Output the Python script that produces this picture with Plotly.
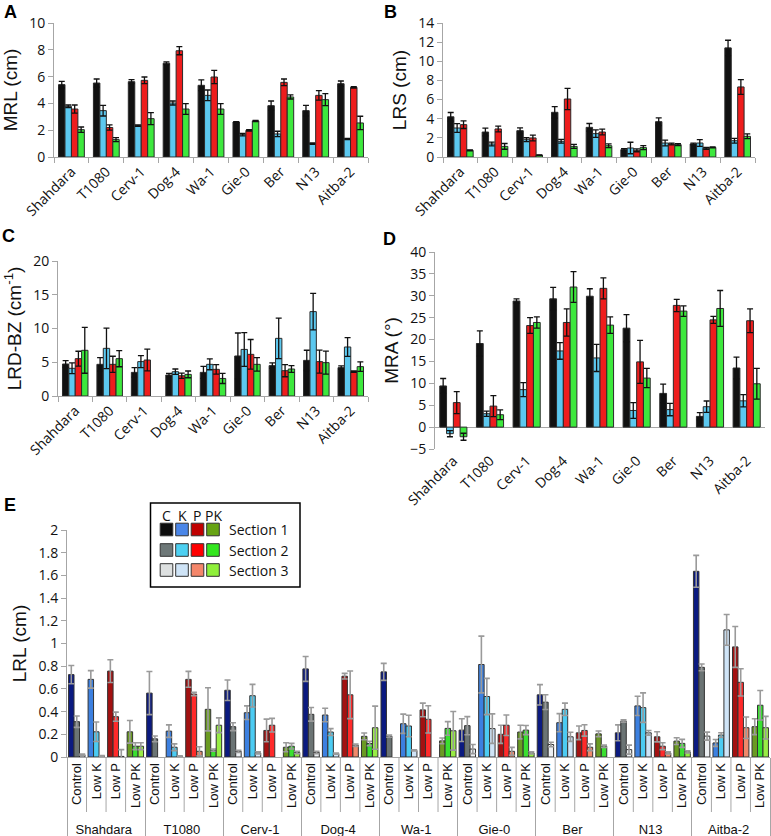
import plotly.graph_objects as go

W, H = 771, 836

accessions = ["Shahdara", "T1080", "Cerv-1", "Dog-4", "Wa-1", "Gie-0", "Ber", "N13", "Aitba-2"]
treatments = ["Control", "Low K", "Low P", "Low PK"]
treat_codes = ["C", "K", "P", "PK"]
section_names = ["Section 1", "Section 2", "Section 3"]

# ---- Panel A: MRL (cm)
mrl_c = [5.4, 5.52, 5.62, 7.0, 5.35, 2.61, 3.83, 3.46, 5.47]
mrl_k = [3.78, 3.46, 2.34, 4.03, 4.6, 1.67, 1.72, 1.0, 1.34]
mrl_p = [3.58, 2.2, 5.72, 7.93, 5.97, 1.99, 5.57, 4.6, 5.2]
mrl_pk = [2.04, 1.3, 2.86, 3.58, 3.58, 2.69, 4.48, 4.28, 2.54]
mrl_c_err = [0.25, 0.3, 0.15, 0.1, 0.4, 0.02, 0.35, 0.4, 0.2]
mrl_k_err = [0.1, 0.4, 0.05, 0.15, 0.4, 0.1, 0.2, 0.05, 0.05]
mrl_p_err = [0.3, 0.2, 0.25, 0.3, 0.5, 0.05, 0.25, 0.35, 0.05]
mrl_pk_err = [0.2, 0.15, 0.45, 0.4, 0.4, 0.05, 0.15, 0.45, 0.5]

# ---- Panel B: LRS (cm)
lrs_c = [4.2, 2.61, 2.75, 4.67, 3.1, 0.77, 3.69, 1.36, 11.4]
lrs_k = [3.03, 1.36, 1.81, 1.64, 2.44, 0.94, 1.46, 1.46, 1.7]
lrs_p = [3.38, 2.93, 1.99, 6.06, 2.61, 0.7, 1.36, 0.9, 7.32]
lrs_pk = [0.7, 1.11, 0.2, 1.11, 1.18, 0.98, 1.29, 1.0, 2.16]
lrs_c_err = [0.45, 0.4, 0.3, 0.6, 0.4, 0.1, 0.4, 0.1, 0.8]
lrs_k_err = [0.45, 0.2, 0.2, 0.2, 0.4, 0.6, 0.3, 0.35, 0.25]
lrs_p_err = [0.4, 0.3, 0.3, 1.1, 0.3, 0.15, 0.1, 0.1, 0.77]
lrs_pk_err = [0.05, 0.3, 0.02, 0.2, 0.2, 0.2, 0.1, 0.05, 0.25]

# ---- Panel C: LRD-BZ (cm-1)
lrd_c = [4.74, 4.69, 3.5, 3.11, 3.5, 5.93, 4.5, 5.28, 4.2]
lrd_k = [4.1, 7.06, 5.09, 3.6, 4.69, 6.9, 8.54, 12.5, 7.26]
lrd_p = [5.53, 4.69, 5.33, 3.0, 3.95, 6.17, 3.75, 5.09, 3.6]
lrd_pk = [6.77, 5.53, None, 3.2, 2.6, 4.69, 4.0, 4.94, 4.35]
lrd_c_err = [0.5, 1.0, 0.7, 0.25, 0.9, 3.4, 0.4, 1.5, 0.25]
lrd_k_err = [0.8, 3.0, 0.9, 0.4, 0.8, 2.5, 3.0, 2.7, 1.4]
lrd_p_err = [1.1, 1.2, 1.6, 0.4, 0.7, 2.2, 0.9, 1.7, 0.1]
lrd_pk_err = [3.4, 1.2, 0, 0.5, 0.75, 1.0, 0.5, 1.7, 0.7]

# ---- Panel D: MRA (degrees)
mra_c = [9.4, 19.1, 28.8, 29.3, 29.9, 22.6, 7.7, 2.45, 13.5]
mra_k = [-1.5, 3.06, 8.56, 17.4, 15.8, 3.8, 4.0, 4.66, 6.0]
mra_p = [5.6, 4.8, 23.2, 23.9, 31.7, 14.9, 27.8, 24.5, 24.3]
mra_pk = [-2.2, 2.83, 23.9, 32.0, 23.3, 11.2, 26.5, 27.1, 9.9]
mra_c_err = [1.7, 2.9, 0.5, 2.6, 1.7, 3.1, 2.1, 0.85, 2.5]
mra_k_err = [0.7, 0.6, 1.6, 1.9, 3.1, 1.8, 1.4, 1.3, 1.4]
mra_p_err = [2.5, 2.4, 1.8, 3.1, 2.4, 4.9, 1.4, 0.8, 2.7]
mra_pk_err = [0.8, 1.1, 1.3, 3.5, 1.9, 2.2, 1.2, 4.1, 3.5]

# ---- Panel E: LRL (cm), order = accession x (Control, Low K, Low P, Low PK)
lrl_sec1 = [0.726, 0.684, 0.757, 0.222,  0.563, 0.228, 0.684, 0.42,  0.588, 0.39, 0.234, 0.086,
            0.776, 0.37, 0.712, 0.182,  0.75, 0.293, 0.415, 0.142,  0.237, 0.815, 0.2, 0.22,
            0.548, 0.302, 0.213, 0.204,  0.213, 0.45, 0.178, 0.14,  1.636, 0.124, 0.97, 0.267]
lrl_sec1_err = [0.08, 0.077, 0.1, 0.1,  0.19, 0.055, 0.07, 0.19,  0.09, 0.06, 0.1, 0.04,
                0.11, 0.06, 0.025, 0.03,  0.075, 0.085, 0.06, 0.025,  0.1, 0.25, 0.08, 0.06,
                0.09, 0.08, 0.06, 0.025,  0.07, 0.085, 0.045, 0.03,  0.14, 0.03, 0.18, 0.07]
lrl_sec2 = [0.311, 0.222, 0.355, 0.095,  0.16, 0.086, 0.554, 0.06,  0.267, 0.54, 0.28, 0.095,
            0.376, 0.22, 0.548, 0.119,  0.184, 0.273, 0.332, 0.252,  0.276, 0.533, 0.28, 0.237,
            0.483, 0.42, 0.234, 0.095,  0.317, 0.435, 0.095, 0.12,  0.79, 0.193, 0.658, 0.456]
lrl_sec2_err = [0.05, 0.086, 0.04, 0.03,  0.025, 0.03, 0.015, 0.01,  0.035, 0.1, 0.06, 0.025,
                0.06, 0.03, 0.21, 0.02,  0.01, 0.095, 0.12, 0.06,  0.08, 0.16, 0.09, 0.04,
                0.065, 0.055, 0.05, 0.01,  0.01, 0.13, 0.03, 0.035,  0.03, 0.02, 0.12, 0.13]
lrl_sec3 = [0.02, 0.01, 0.005, 0.095,  None, 0.005, 0.05, 0.28,  0.05, 0.036, None, 0.04,
            0.04, 0.03, 0.104, 0.258,  None, 0.058, None, 0.231,  0.07, 0.25, 0.05, 0.036,
            0.11, 0.178, 0.086, None,  0.065, 0.213, 0.036, 0.045,  0.184, 1.12, 0.258, 0.258]
lrl_sec3_err = [0.005, 0.003, 0.06, 0.03,  0, 0.005, 0.04, 0.065,  0.01, 0.01, 0, 0.01,
                0.01, 0.005, 0.01, 0.19,  0, 0.005, 0, 0.17,  0.04, 0.13, 0.035, 0.01,
                0.02, 0.04, 0.03, 0,  0.04, 0.02, 0.01, 0.01,  0.035, 0.136, 0.095, 0.1]

# ---------------- styling ----------------
AD_COLORS = ["#111111", "#5cc8ef", "#ee1d1d", "#3de83d"]
E_COLORS = {  # per section, per treatment
    0: ["#0b1a80", "#3c80e0", "#a31111", "#6a9a22"],
    1: ["#6b7474", "#4ccbf2", "#ff2a2a", "#3ae030"],
    2: ["#eceff2", "#cfe4f7", "#f0896b", "#98ec45"],
}
LEG_COLORS = {
    0: ["#0d0d0d", "#4a86e8", "#c00000", "#66a313"],
    1: ["#6e7878", "#4dd0f2", "#ff0000", "#33e61e"],
    2: ["#dde0e0", "#cfe4f7", "#f4866a", "#8ff03a"],
}
AX = "#a6a6a6"
TICKFONT = dict(family="Open Sans, Lato, sans-serif", size=14, color="#111")
TITLEFONT = dict(family="Liberation Sans, Arial, sans-serif", size=19, color="#111")


def fx(px):
    return px / W


def fy(py):
    return 1 - py / H


fig = go.Figure()

panels = [
    ("x", "y", [mrl_c, mrl_k, mrl_p, mrl_pk], [mrl_c_err, mrl_k_err, mrl_p_err, mrl_pk_err]),
    ("x2", "y2", [lrs_c, lrs_k, lrs_p, lrs_pk], [lrs_c_err, lrs_k_err, lrs_p_err, lrs_pk_err]),
    ("x3", "y3", [lrd_c, lrd_k, lrd_p, lrd_pk], [lrd_c_err, lrd_k_err, lrd_p_err, lrd_pk_err]),
    ("x4", "y4", [mra_c, mra_k, mra_p, mra_pk], [mra_c_err, mra_k_err, mra_p_err, mra_pk_err]),
]
for xa, ya, series, errs in panels:
    for i, (vals, ev) in enumerate(zip(series, errs)):
        fig.add_trace(go.Bar(
            x=accessions, y=vals, xaxis=xa, yaxis=ya, name=treat_codes[i],
            marker=dict(color=AD_COLORS[i], line=dict(color="#2a2a2a", width=1)),
            error_y=dict(type="data", array=ev, visible=True, color="#111", thickness=1.3, width=3),
            showlegend=False,
        ))

# Panel E
e_outer = [a for a in accessions for _ in treatments]
e_inner = [t for _ in accessions for t in treatments]
e_vals = [lrl_sec1, lrl_sec2, lrl_sec3]
e_errs = [lrl_sec1_err, lrl_sec2_err, lrl_sec3_err]
bw = 0.28
for s in range(3):
    fig.add_trace(go.Bar(
        x=[e_outer, e_inner], y=e_vals[s], xaxis="x5", yaxis="y5", name=section_names[s],
        width=bw, offset=-1.5 * bw + s * bw,
        marker=dict(color=[E_COLORS[s][j % 4] for j in range(36)], line=dict(color="#333", width=1)),
        error_y=dict(type="data", array=e_errs[s], visible=True, color="#9a9a9a", thickness=1.6, width=3),
        showlegend=False,
    ))

common_x = dict(showline=True, linecolor=AX, linewidth=1, ticks="outside", tickson="boundaries",
                ticklen=5, tickcolor=AX, tickangle=-45, tickfont=TICKFONT, showgrid=False,
                zeroline=False, automargin=False)
common_y = dict(showline=True, linecolor=AX, linewidth=1, ticks="outside", ticklen=5, tickcolor=AX,
                tickfont=TICKFONT, showgrid=False, zeroline=False, title_standoff=6, automargin=False)

fig.update_layout(
    template="none",
    width=W, height=H, margin=dict(l=0, r=0, t=0, b=0, pad=0), autosize=False,
    paper_bgcolor="white", plot_bgcolor="white", showlegend=False,
    barmode="group", bargap=0.26, bargroupgap=0,
    xaxis=dict(domain=[fx(54), fx(368)], anchor="y", **common_x),
    yaxis=dict(domain=[fy(157), fy(23)], anchor="x", range=[0, 10], dtick=2,
               title=dict(text="MRL (cm)", font=TITLEFONT), **common_y),
    xaxis2=dict(domain=[fx(443), fx(755)], anchor="y2", **common_x),
    yaxis2=dict(domain=[fy(157), fy(23)], anchor="x2", range=[0, 14], dtick=2,
                title=dict(text="LRS (cm)", font=TITLEFONT), **common_y),
    xaxis3=dict(domain=[fx(58), fx(368)], anchor="y3", **common_x),
    yaxis3=dict(domain=[fy(396), fy(261)], anchor="x3", range=[0, 20], dtick=5,
                title=dict(text="LRD-BZ (cm<sup>-1</sup>)", font=TITLEFONT), **common_y),
    xaxis4=dict(domain=[fx(435), fx(765)], anchor="y4",
                **{**common_x, "showline": False, "ticks": ""}),
    yaxis4=dict(domain=[fy(449), fy(252)], anchor="x4", range=[-5, 40], dtick=5,
                title=dict(text="MRA (°)", font=TITLEFONT),
                **{**common_y, "zeroline": True, "zerolinecolor": AX, "zerolinewidth": 1}),
    xaxis5=dict(domain=[fx(67), fx(770)], anchor="y5", type="multicategory",
                showline=True, linecolor=AX, ticks="", tickson="boundaries",
                tickangle=-90, showdividers=True, dividercolor=AX, dividerwidth=1,
                tickfont=dict(family="Liberation Sans, Arial, sans-serif", size=13, color="#111"),
                showgrid=False, zeroline=False, automargin=False),
    yaxis5=dict(domain=[fy(757), fy(530)], anchor="x5", range=[0, 2], dtick=0.2,
                title=dict(text="LRL (cm)", font=TITLEFONT), **common_y),
)

# panel letters
for txt, px, py in [("A", 10, 12), ("B", 390, 12), ("C", 8, 236), ("D", 389, 239), ("E", 10, 505)]:
    fig.add_annotation(x=fx(px), y=fy(py), xref="paper", yref="paper", text=f"<b>{txt}</b>",
                       xanchor="center", yanchor="middle", showarrow=False,
                       font=dict(family="Liberation Sans, Arial, sans-serif", size=18, color="#000"))

shapes = []
# treatment separators below the E axis (at category boundaries)
for k in range(36):
    if k % 4 == 0:
        continue
    shapes.append(dict(type="line", xref="x5", yref="paper", x0=k - 0.5, x1=k - 0.5,
                       y0=fy(757), y1=fy(812), line=dict(color=AX, width=1)))

# Panel E legend box
shapes.append(dict(type="rect", xref="paper", yref="paper", x0=fx(150.5), x1=fx(300), y0=fy(587), y1=fy(503),
                   line=dict(color="#000", width=1.5), fillcolor="white"))
col_x = [166.5, 182, 197.5, 213]
row_y = [529.5, 550, 570]
for s in range(3):
    for j in range(4):
        cx, cy = col_x[j], row_y[s]
        shapes.append(dict(type="rect", xref="paper", yref="paper", x0=fx(cx - 6.3), x1=fx(cx + 6.3),
                           y0=fy(cy + 6.3), y1=fy(cy - 6.3), line=dict(color="#333", width=1),
                           fillcolor=LEG_COLORS[s][j]))
    fig.add_annotation(x=fx(227), y=fy(row_y[s]), xref="paper", yref="paper", text=section_names[s],
                       xanchor="left", yanchor="middle", showarrow=False,
                       font=dict(family="Open Sans, sans-serif", size=14, color="#111"))
for j in range(4):
    fig.add_annotation(x=fx(col_x[j]), y=fy(515), xref="paper", yref="paper", text=treat_codes[j],
                       xanchor="center", yanchor="middle", showarrow=False,
                       font=dict(family="Open Sans, sans-serif", size=14, color="#111"))
fig.update_layout(shapes=shapes)

fig.write_html(
    "out.html",
    config={"displayModeBar": False},
    post_script="document.body.style.margin='0';document.body.style.padding='0';"
                "document.body.style.overflow='hidden';",
)
